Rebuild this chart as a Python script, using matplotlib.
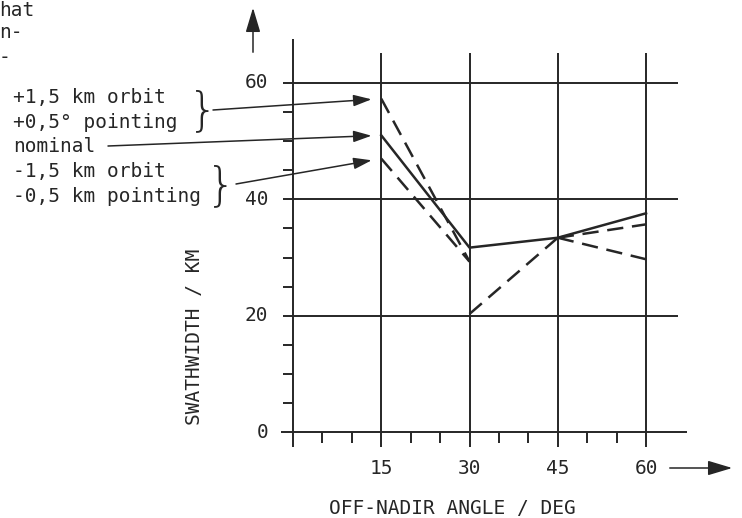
import matplotlib
matplotlib.use('Agg')
from matplotlib import pyplot as plt
from matplotlib.patches import FancyArrowPatch

# swath width vs off-nadir angle
angles = [15, 30, 45, 60]
nominal = [51.0, 31.7, 33.4, 37.6]
plus_dev = [57.3, 29.3, 33.4, 35.7]
minus_dev = [47.0, 29.3, 33.4, 29.7]
branch_30 = 20.3

xticks = [15, 30, 45, 60]
yticks = [0, 20, 40, 60]
xminor = [5, 10, 20, 25, 35, 40, 50, 55]
yminor = [5, 10, 15, 25, 30, 35, 45, 50, 55]

labels = ['+1,5 km orbit', '+0,5° pointing', 'nominal', '-1,5 km orbit', '-0,5 km pointing']

W, H = 742, 518
ink = '#262626'
mono = 'DejaVu Sans Mono'

fig = plt.figure(figsize=(W / 100, H / 100), dpi=100)
ax = fig.add_axes([0.379, 0.1322, 0.5472, 0.7975])
ax.set_xlim(-2, 67)
ax.set_ylim(-3, 68)
ax.axis('off')


def px(x, y):
    return x / W, 1 - y / H


lw = 1.4
# axes + grid
ax.vlines(0, -2.6, 67.6, color=ink, lw=lw)
ax.hlines(0, -2.0, 67.3, color=ink, lw=lw)
ax.vlines(xticks, -2.6, 65.1, color=ink, lw=lw)
ax.hlines(yticks[1:], -1.7, 65.5, color=ink, lw=lw)
ax.vlines(xminor, -1.9, 0, color=ink, lw=lw)
ax.hlines(yminor, -1.7, 0, color=ink, lw=lw)

for t in xticks:
    ax.text(t, -6.2, str(t), ha='center', va='center', fontsize=14, family=mono, color=ink)
for t in yticks:
    ax.text(-4.2, t, str(t), ha='right', va='center', fontsize=14, family=mono, color=ink)

# curves
dash = (6.5, 3.5)
clw = 1.8
ax.plot(angles, nominal, color=ink, lw=clw)
for dev in (plus_dev, minus_dev):
    ax.plot(angles[:2], dev[:2], color=ink, lw=clw, dashes=dash)
    ax.plot(angles[2:], dev[2:], color=ink, lw=clw, dashes=dash)
ax.plot(angles[1:3], [branch_30, plus_dev[2]], color=ink, lw=clw, dashes=dash)

# legend text on the left
baselines = [103, 127.5, 152, 177, 202]
for txt, yb in zip(labels, baselines):
    fig.text(*px(13, yb), txt, ha='left', va='baseline', fontsize=14, family=mono, color=ink)

fig.text(*px(188, 111), '}', ha='left', va='center', fontsize=34, family='DejaVu Sans',
         fontweight='light', color=ink)
fig.text(*px(206, 186), '}', ha='left', va='center', fontsize=34, family='DejaVu Sans',
         fontweight='light', color=ink)

tails = [(213, 110), (108, 146), (236, 184)]
tips = [plus_dev[0], nominal[0], minus_dev[0]]
for (tx, ty), v in zip(tails, tips):
    ax.annotate('', xy=(angles[0], v), xycoords='data',
                xytext=px(tx, ty), textcoords='figure fraction',
                arrowprops=dict(arrowstyle='-|>,head_length=1.1,head_width=0.35',
                                color=ink, lw=1.1, shrinkA=0, shrinkB=7))

# axis labels and arrows
fig.text(*px(452, 509), 'OFF-NADIR ANGLE / DEG', ha='center', va='center',
         fontsize=14, family=mono, color=ink)
fig.text(*px(195, 337), 'SWATHWIDTH / KM', ha='center', va='center', rotation=90,
         fontsize=14, family=mono, color=ink)
fig.add_artist(FancyArrowPatch(
    px(667, 468), px(735, 468), transform=fig.transFigure,
    arrowstyle='-|>,head_length=1.0,head_width=0.3', color=ink, lw=1.1, mutation_scale=15))
fig.add_artist(FancyArrowPatch(
    px(253, 55), px(253, 5), transform=fig.transFigure,
    arrowstyle='-|>,head_length=1.0,head_width=0.3', color=ink, lw=1.1, mutation_scale=15))

# page text cut off at the top left
for txt, yc in [('hat', 10), ('n-', 33), ('-', 57)]:
    fig.text(*px(-1, yc), txt, ha='left', va='center', fontsize=14, family=mono, color=ink)

fig.savefig('out.png', dpi=100)
